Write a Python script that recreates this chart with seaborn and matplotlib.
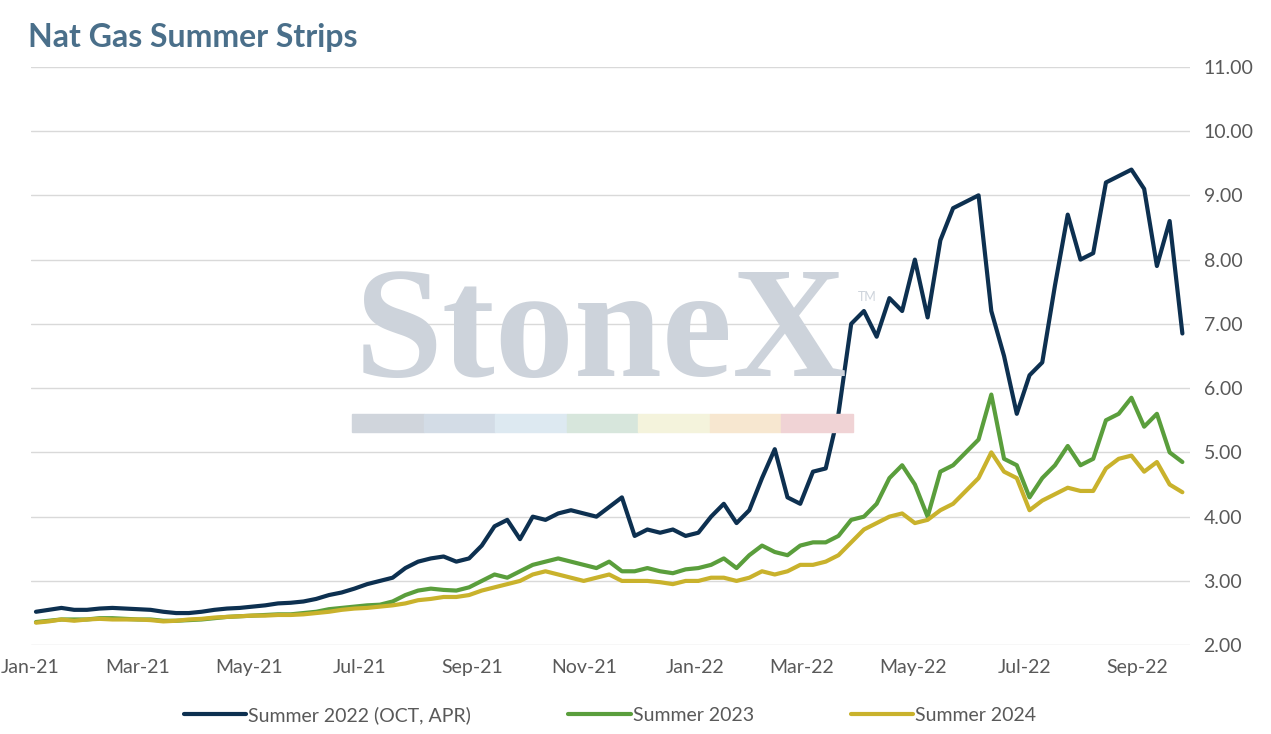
import pandas as pd
import numpy as np
import seaborn as sns
import matplotlib.pyplot as plt
import matplotlib.dates as mdates
from matplotlib.patches import Rectangle

# ---- DATA (weekly readings) ----
dates = pd.date_range("2021-01-04", periods=91, freq="W-MON")

summer_2022 = [
    2.52, 2.55, 2.58, 2.55,
    2.55, 2.57, 2.58, 2.57,
    2.56, 2.55, 2.52, 2.50, 2.50,
    2.52, 2.55, 2.57, 2.58,
    2.60, 2.62, 2.65, 2.66, 2.68,
    2.72, 2.78, 2.82, 2.88,
    2.95, 3.00, 3.05, 3.20,
    3.30, 3.35, 3.38, 3.30, 3.35,
    3.55, 3.85, 3.95, 3.65,
    4.00, 3.95, 4.05, 4.10,
    4.05, 4.00, 4.15, 4.30, 3.70,
    3.80, 3.75, 3.80, 3.70,
    3.75, 4.00, 4.20, 3.90, 4.10,
    4.60, 5.05, 4.30, 4.20,
    4.70, 4.75, 5.60, 7.00,
    7.20, 6.80, 7.40, 7.20,
    8.00, 7.10, 8.30, 8.80, 8.90,
    9.00, 7.20, 6.50, 5.60,
    6.20, 6.40, 7.60, 8.70,
    8.00, 8.10, 9.20, 9.30, 9.40,
    9.10, 7.90, 8.60, 6.85,
]
summer_2023 = [
    2.36, 2.38, 2.40, 2.40,
    2.40, 2.42, 2.42, 2.41,
    2.40, 2.40, 2.38, 2.38, 2.39,
    2.40, 2.42, 2.44, 2.45,
    2.46, 2.47, 2.48, 2.48, 2.50,
    2.52, 2.56, 2.58, 2.60,
    2.62, 2.63, 2.68, 2.78,
    2.85, 2.88, 2.86, 2.85, 2.90,
    3.00, 3.10, 3.05, 3.15,
    3.25, 3.30, 3.35, 3.30,
    3.25, 3.20, 3.30, 3.15, 3.15,
    3.20, 3.15, 3.12, 3.18,
    3.20, 3.25, 3.35, 3.20, 3.40,
    3.55, 3.45, 3.40, 3.55,
    3.60, 3.60, 3.70, 3.95,
    4.00, 4.20, 4.60, 4.80,
    4.50, 4.00, 4.70, 4.80, 5.00,
    5.20, 5.90, 4.90, 4.80,
    4.30, 4.60, 4.80, 5.10,
    4.80, 4.90, 5.50, 5.60, 5.85,
    5.40, 5.60, 5.00, 4.85,
]
summer_2024 = [
    2.35, 2.37, 2.40, 2.38,
    2.40, 2.41, 2.40, 2.40,
    2.40, 2.39, 2.37, 2.38, 2.40,
    2.41, 2.43, 2.44, 2.45,
    2.46, 2.46, 2.47, 2.47, 2.48,
    2.50, 2.52, 2.55, 2.57,
    2.58, 2.60, 2.62, 2.65,
    2.70, 2.72, 2.75, 2.75, 2.78,
    2.85, 2.90, 2.95, 3.00,
    3.10, 3.15, 3.10, 3.05,
    3.00, 3.05, 3.10, 3.00, 3.00,
    3.00, 2.98, 2.95, 3.00,
    3.00, 3.05, 3.05, 3.00, 3.05,
    3.15, 3.10, 3.15, 3.25,
    3.25, 3.30, 3.40, 3.60,
    3.80, 3.90, 4.00, 4.05,
    3.90, 3.95, 4.10, 4.20, 4.40,
    4.60, 5.00, 4.70, 4.60,
    4.10, 4.25, 4.35, 4.45,
    4.40, 4.40, 4.75, 4.90, 4.95,
    4.70, 4.85, 4.50, 4.38,
]

series_names = ["Summer 2022 (OCT, APR)", "Summer 2023", "Summer 2024"]
colors = ["#0d3050", "#5a9e3c", "#c9b22c"]

df = pd.DataFrame({
    "date": dates,
    series_names[0]: summer_2022,
    series_names[1]: summer_2023,
    series_names[2]: summer_2024,
}).melt(id_vars="date", var_name="series", value_name="price")

# ---- PLOT ----
sns.set_style("white")
plt.rcParams["font.family"] = ["Lato", "DejaVu Sans"]

fig = plt.figure(figsize=(12.71, 7.34), dpi=100)
ax = fig.add_axes([0.024, 0.121, 0.912, 0.788])

# watermark
fig.text(0.473, 0.54, "StoneX", fontsize=114, family="Liberation Serif",
         fontweight="bold", color="#cdd3db", ha="center", va="center", zorder=0)
fig.text(0.675, 0.59, "TM", fontsize=9, color="#cdd3db", zorder=0)
wm_colors = ["#d0d5dc", "#d3dce6", "#dde9f1", "#d7e6dc", "#f4f3dc", "#f7e7d0", "#f0d3d5"]
for i, c in enumerate(wm_colors):
    fig.patches.append(Rectangle((0.277 + i * 0.0563, 0.411), 0.0563, 0.025,
                                 transform=fig.transFigure, color=c, zorder=0))

sns.lineplot(data=df, x="date", y="price", hue="series", palette=colors,
             linewidth=3, ax=ax, legend=True)

ax.set_ylim(2, 11)
ax.set_xlim(pd.Timestamp("2021-01-01"), pd.Timestamp("2022-09-30"))
ax.yaxis.tick_right()
ax.set_yticks(np.arange(2, 11.1, 1))
ax.set_yticklabels([f"{v:.2f}" for v in np.arange(2, 11.1, 1)])
ax.xaxis.set_major_locator(mdates.MonthLocator(bymonth=[1, 3, 5, 7, 9, 11]))
ax.xaxis.set_major_formatter(mdates.DateFormatter("%b-%y"))
ax.tick_params(axis="both", labelsize=14, labelcolor="#595959", length=0, pad=10)
ax.grid(axis="y", color="#d9d9d9", linewidth=1)
ax.set_axisbelow(True)
ax.patch.set_alpha(0)
for s in ax.spines.values():
    s.set_visible(False)
ax.set_xlabel("")
ax.set_ylabel("")

ax.legend(loc="upper center", bbox_to_anchor=(0.5, -0.075), ncol=3, frameon=False,
          fontsize=14, labelcolor="#595959", handlelength=3.2, columnspacing=5,
          handletextpad=0.1)

fig.text(0.022, 0.949, "Nat Gas Summer Strips", fontsize=23, fontweight="bold",
         color="#4a6f8a", ha="left", va="center")

fig.savefig("out.png", dpi=100)
